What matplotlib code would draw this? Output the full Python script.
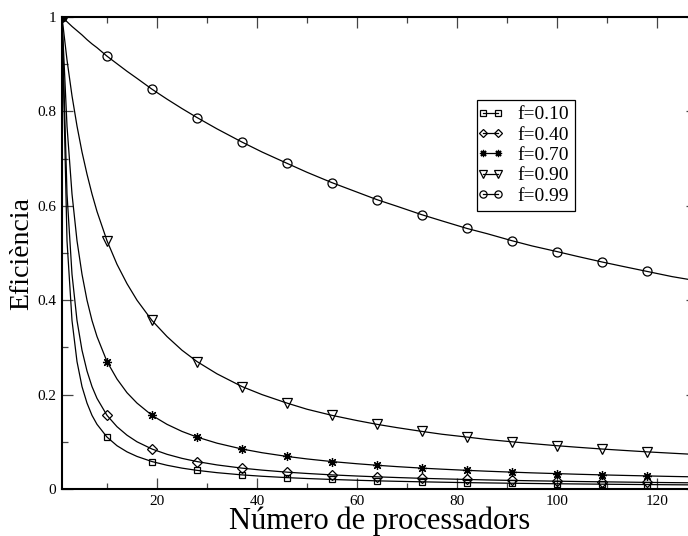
import matplotlib
matplotlib.use("Agg")
import matplotlib.pyplot as plt
from matplotlib.ticker import MultipleLocator, FuncFormatter
from matplotlib.lines import Line2D
from matplotlib.legend_handler import HandlerLine2D

plt.rcParams['font.family'] = ['Liberation Serif', 'DejaVu Serif']

# Number of processors sampled along the curves
N = [1, 2, 3, 4, 5, 6, 7, 8, 10, 12, 14, 16, 19, 22, 25, 28, 32, 37, 41, 46, 50,
     55, 60, 64, 68, 73, 77, 82, 86, 91, 95, 100, 104, 109, 113, 118, 123, 128]
# Processor counts where markers are drawn
marker_N = [1, 10, 19, 28, 37, 46, 55, 64, 73, 82, 91, 100, 109, 118]

eff_010 = [1.0, 0.526, 0.357, 0.270, 0.217, 0.182, 0.156, 0.137, 0.110, 0.0917, 0.0787,
           0.0690, 0.0581, 0.0503, 0.0442, 0.0395, 0.0346, 0.0299, 0.0270, 0.0241, 0.0222,
           0.0202, 0.0185, 0.0173, 0.0163, 0.0152, 0.0144, 0.0135, 0.0129, 0.0122, 0.0117,
           0.0111, 0.0107, 0.0102, 0.0098, 0.0094, 0.0090, 0.0087]
eff_040 = [1.0, 0.625, 0.455, 0.357, 0.294, 0.250, 0.217, 0.192, 0.156, 0.132, 0.114,
           0.100, 0.0847, 0.0735, 0.0649, 0.0581, 0.0510, 0.0442, 0.0400, 0.0357, 0.0329,
           0.0299, 0.0275, 0.0258, 0.0243, 0.0226, 0.0215, 0.0202, 0.0192, 0.0182, 0.0174,
           0.0166, 0.0159, 0.0152, 0.0147, 0.0140, 0.0135, 0.0130]
eff_070 = [1.0, 0.769, 0.625, 0.526, 0.455, 0.400, 0.357, 0.323, 0.270, 0.233, 0.204,
           0.182, 0.156, 0.137, 0.122, 0.110, 0.0971, 0.0847, 0.0769, 0.0690, 0.0637,
           0.0581, 0.0535, 0.0503, 0.0474, 0.0442, 0.0420, 0.0395, 0.0377, 0.0357, 0.0342,
           0.0326, 0.0313, 0.0299, 0.0289, 0.0277, 0.0266, 0.0256]
eff_090 = [1.0, 0.909, 0.833, 0.769, 0.714, 0.667, 0.625, 0.588, 0.526, 0.476, 0.435,
           0.400, 0.357, 0.323, 0.294, 0.270, 0.244, 0.217, 0.200, 0.182, 0.169,
           0.156, 0.145, 0.137, 0.130, 0.122, 0.116, 0.110, 0.105, 0.100, 0.0962,
           0.0917, 0.0885, 0.0847, 0.0820, 0.0787, 0.0758, 0.0730]
eff_099 = [1.0, 0.990, 0.980, 0.971, 0.962, 0.952, 0.943, 0.935, 0.917, 0.901, 0.885,
           0.870, 0.847, 0.826, 0.806, 0.787, 0.763, 0.735, 0.714, 0.690, 0.671,
           0.649, 0.629, 0.613, 0.599, 0.581, 0.568, 0.552, 0.541, 0.526, 0.515,
           0.503, 0.493, 0.481, 0.472, 0.461, 0.450, 0.441]

labels = ['f=0.10', 'f=0.40', 'f=0.70', 'f=0.90', 'f=0.99']
series = [eff_010, eff_040, eff_070, eff_090, eff_099]
markers = ['s', 'D', (8, 2, 0), 'v', 'o']
msizes = [5, 5, 6.5, 6.5, 6.5]

fig = plt.figure(figsize=(6.88, 5.36), dpi=100)
W, H = 688, 536
x0, x1, ytop, ybot = 62, 697, 17, 489
ax = fig.add_axes([x0 / W, 1 - ybot / H, (x1 - x0) / W, (ybot - ytop) / H])

mask = [n in marker_N for n in N]
for ys, lab, mk, ms in zip(series, labels, markers, msizes):
    ax.plot(N, ys, color='black', lw=0.9, marker=mk, markevery=mask, ms=ms,
            mfc='none', mec='black', mew=0.9, label=lab)

ax.set_xlim(1, 128)
ax.set_ylim(0, 1)
ax.xaxis.set_major_locator(MultipleLocator(20))
ax.xaxis.set_minor_locator(MultipleLocator(10))
ax.yaxis.set_major_locator(MultipleLocator(0.2))
ax.yaxis.set_minor_locator(MultipleLocator(0.1))

def yfmt(v, pos):
    if abs(v) < 1e-9:
        return '0'
    if abs(v - 1) < 1e-9:
        return '1'
    return '%g' % round(v, 1)

def xfmt(v, pos):
    if v < 10:
        return ''
    return '%d' % v

ax.yaxis.set_major_formatter(FuncFormatter(yfmt))
ax.xaxis.set_major_formatter(FuncFormatter(xfmt))

ax.tick_params(which='both', direction='in', top=True, right=True,
               color='#444444', width=0.9, labelsize=11, pad=4)
ax.tick_params(which='major', length=8)
ax.tick_params(which='minor', length=4.5)
for sp in ax.spines.values():
    sp.set_linewidth(1.5)

fig.text(22 / W, 1 - 253 / H, 'Eficiència', rotation=90, ha='center', va='center',
         fontsize=20)
fig.text(380 / W, 1 - 521 / H, 'Número de processadors', ha='center', va='center',
         fontsize=22)

leg = ax.legend(loc='upper left', bbox_to_anchor=(477 / W, 1 - 100 / H),
                bbox_transform=fig.transFigure, numpoints=2, handlelength=0.8,
                handletextpad=1.0, borderpad=0.3, labelspacing=0.14,
                fontsize=14, fancybox=False, framealpha=1, markerscale=0.8,
                borderaxespad=0,
                handler_map={Line2D: HandlerLine2D(marker_pad=0, numpoints=2)})
leg.get_frame().set_edgecolor('black')
leg.get_frame().set_linewidth(0.9)

fig.savefig('out.png', dpi=100)
